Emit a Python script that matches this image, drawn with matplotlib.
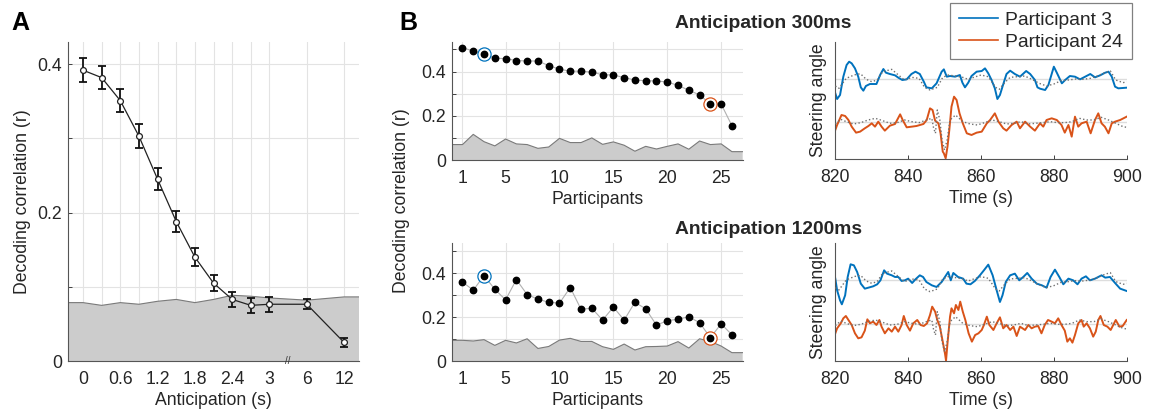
import matplotlib
matplotlib.use('Agg')
import matplotlib.pyplot as plt
import numpy as np

plt.rcParams['font.family'] = ['Liberation Sans', 'DejaVu Sans']
plt.rcParams['text.color'] = '#262626'
plt.rcParams['axes.labelcolor'] = '#262626'
plt.rcParams['xtick.color'] = '#404040'
plt.rcParams['ytick.color'] = '#404040'
plt.rcParams['xtick.labelcolor'] = '#262626'
plt.rcParams['ytick.labelcolor'] = '#262626'

# ---------------- Panel A data ----------------
anticipation = [0, 0.3, 0.6, 0.9, 1.2, 1.5, 1.8, 2.1, 2.4, 2.7, 3, 6, 12]
corr_mean = [0.392, 0.382, 0.351, 0.303, 0.245, 0.188, 0.140, 0.105, 0.083, 0.075, 0.0765, 0.0765, 0.025]
corr_err = [0.016, 0.016, 0.016, 0.016, 0.015, 0.014, 0.012, 0.011, 0.010, 0.010, 0.010, 0.007, 0.006]
corr_null = [0.0787, 0.075, 0.0787, 0.0765, 0.0805, 0.083, 0.0787, 0.083, 0.0886, 0.0873, 0.085, 0.082, 0.0864]
a_tick_labels = ['0', '0.6', '1.2', '1.8', '2.4', '3', '6', '12']

# ---------------- Panel B data ----------------
participants = list(range(1, 27))
corr_300 = [0.508, 0.493, 0.481, 0.460, 0.459, 0.450, 0.448, 0.448, 0.427, 0.411,
            0.402, 0.402, 0.398, 0.386, 0.385, 0.373, 0.362, 0.359, 0.358, 0.353,
            0.338, 0.316, 0.295, 0.254, 0.254, 0.156]
null_300 = [0.071, 0.117, 0.084, 0.065, 0.096, 0.074, 0.071, 0.054, 0.060, 0.099,
            0.080, 0.080, 0.101, 0.072, 0.083, 0.068, 0.041, 0.063, 0.051, 0.063,
            0.074, 0.050, 0.087, 0.071, 0.074, 0.039]
corr_1200 = [0.359, 0.322, 0.388, 0.326, 0.278, 0.370, 0.302, 0.281, 0.267, 0.263,
             0.334, 0.235, 0.240, 0.186, 0.245, 0.186, 0.267, 0.237, 0.163, 0.183,
             0.190, 0.201, 0.174, 0.106, 0.169, 0.119]
null_1200 = [0.094, 0.091, 0.097, 0.071, 0.094, 0.082, 0.101, 0.057, 0.066, 0.095,
             0.103, 0.089, 0.089, 0.065, 0.053, 0.077, 0.050, 0.065, 0.066, 0.068,
             0.088, 0.059, 0.101, 0.089, 0.068, 0.038]
highlight = [3, 24]

# ---------------- Steering traces (arbitrary units, deviation from baseline) ----------------
t_p3_300 = [820.0, 820.5, 821.3, 822.2, 823.1, 823.8, 824.5, 825.4, 826.3, 827.0, 827.7, 828.4, 829.5, 831.3,
            832.3, 833.2, 833.9, 835.0, 836.4, 837.3, 838.4, 839.6, 840.9, 842.0, 843.2, 844.3, 845.0, 846.5,
            847.8, 849.2, 849.8, 850.6, 851.5, 852.9, 854.2, 854.9, 855.6, 856.5, 857.4, 858.8, 860.2, 861.1,
            862.0, 862.9, 863.8, 864.5, 865.2, 865.9, 867.0, 868.0, 869.3, 870.7, 872.4, 873.5, 874.8, 875.5,
            876.2, 877.6, 878.5, 879.4, 880.0, 880.9, 882.2, 883.1, 884.4, 885.8, 887.2, 888.6, 890.0, 891.3,
            892.7, 894.1, 895.0, 895.9, 896.8, 897.7, 900.0]
v_p3_300 = [-4.4, -6.1, -4.9, 0.6, 4.1, 5.1, 4.6, 3.1, 0.6, -2.6, -3.6, -2.2, -1.6, -1.6,
            1.1, 2.9, 1.8, 1.4, 1.0, 0.3, -0.4, -0.2, 1.4, 2.1, 1.4, -0.9, -2.6, -2.9,
            -1.4, 2.1, 2.8, 0.6, 0.8, 0.6, 1.1, -1.2, -2.6, -1.2, 0.8, 2.1, 2.3, 3.1,
            1.6, -0.4, -2.9, -6.1, -4.9, -2.4, 1.4, 2.4, 1.4, 0.6, 2.3, 1.4, -0.4, -2.6,
            -3.0, -3.4, -1.9, 1.4, 3.6, 1.6, -1.4, -0.4, 0.8, 0.6, -0.2, 0.6, 1.4, 0.4,
            1.0, 1.8, 2.1, 0.6, -2.4, -2.9, -2.7]

t_p3_true = [820, 821, 822, 823, 824.5, 826, 827, 828.5, 830, 831.5, 833, 835.5, 837, 839, 841, 843,
             844.5, 846, 848, 849.5, 851, 853, 855, 856.5, 858, 860, 862, 864, 865, 866.5, 868, 870,
             872, 874, 876, 878, 880, 882, 884, 886, 888, 890, 892, 894, 895.5, 897, 899, 900]
v_p3_true = [-2.2, -2.9, -1.4, 0.1, 0.8, 1.4, 1.4, -0.2, -0.9, -0.4, 2.1, 2.8, 1.4, -0.4, 0.4, 0.1,
             -2.6, -3.4, -2.6, 0.4, 1.1, 0.8, 0.4, -0.2, 0.4, 1.1, 0.6, -2.6, -3.2, -1.2, 0.4, 0.6,
             0.8, -0.2, -1.4, -2.2, -1.6, -0.6, -0.4, -0.1, -0.2, 0.1, 0.8, 1.8, 2.3, -0.4, -1.2, -0.9]

t_p24_300 = [820.0, 820.5, 821.7, 822.7, 823.6, 824.5, 825.7, 826.8, 828.1, 829.1, 830.0, 830.9, 831.8, 832.7,
             833.6, 835.0, 836.4, 837.8, 838.5, 839.6, 841.0, 842.3, 844.2, 845.1, 846.0, 846.7, 847.4, 848.3,
             848.9, 849.5, 849.8, 850.3, 850.8, 851.3, 851.9, 852.6, 853.3, 854.1, 855.0, 856.1, 857.4, 858.8,
             860.2, 861.6, 862.5, 863.8, 864.8, 866.1, 867.0, 868.4, 869.8, 870.7, 872.1, 873.5, 874.8, 876.2,
             877.1, 878.0, 879.4, 880.8, 882.1, 883.0, 884.0, 884.9, 885.8, 886.7, 887.6, 889.0, 890.1, 891.3,
             892.2, 893.1, 894.0, 895.0, 895.9, 896.8, 898.2, 900.0]
v_p24_300 = [-2.3, -0.8, 2.2, 1.9, 0.7, -1.3, -3.1, -2.8, -1.8, -1.1, -0.3, -1.3, 0.2, -1.3,
             -2.5, -1.0, -0.5, 2.4, 0.7, -1.5, -1.3, -1.1, -0.5, 0.7, 4.2, 3.7, 0.5, -0.3,
             -3.3, -8.8, -9.3, -10.8, -7.3, -2.3, 4.7, 7.7, 6.7, 2.7, -0.3, -3.3, -3.8, -3.1,
             -2.8, -0.3, 0.7, 2.7, 0.2, -1.8, -2.5, -0.8, 0.2, -1.8, 0.2, -1.3, -2.5, -0.3,
             -1.3, 0.7, 1.2, 0.7, -0.8, -3.1, -0.8, -4.3, 1.7, -1.3, -0.3, 0.2, -3.3, 0.7,
             2.7, -0.3, -1.3, -3.3, -0.3, 0.2, 0.7, 1.7]

t_p24_true = [820, 821.5, 823, 825, 827, 829, 831, 833, 835, 837, 839, 841, 843, 845, 846.5, 847,
              847.5, 848, 848.7, 849.3, 850, 850.7, 851.5, 853, 855, 857, 859, 861, 863, 865, 867, 869,
              871, 873, 875, 877, 879, 881, 883, 885, 887, 889, 891, 893, 895, 897, 899, 900]
v_p24_true = [-0.5, 0.9, 0.2, -0.5, -0.1, 0.7, 1.2, 0.5, -0.3, -0.1, 0.7, 0.2, -0.1, 0.7, 1.2, -1.8,
              -3.3, 3.7, 0.7, -5.3, -8.3, -5.3, 0.7, 2.2, 0.2, -0.5, -0.8, -0.1, 0.7, 0.2, -0.5, -0.3,
              0.2, -0.5, -0.3, -0.1, 0.2, -0.1, -0.1, 0.2, 1.2, 0.7, 0.7, 1.5, 0.7, -0.3, -1.3, -1.5]

t_p3_1200 = [820.0, 820.5, 821.3, 821.8, 822.7, 823.4, 824.2, 825.1, 826.0, 827.0, 828.1, 829.1, 830.4, 831.5,
             832.4, 833.4, 834.2, 835.5, 836.4, 837.3, 838.2, 839.1, 840.0, 841.1, 842.0, 843.2, 844.1, 845.0,
             846.5, 847.8, 849.2, 850.4, 851.0, 851.7, 852.4, 853.7, 855.1, 856.0, 857.1, 858.3, 859.7, 860.8,
             862.0, 863.2, 864.3, 865.2, 865.9, 866.8, 868.0, 869.3, 870.5, 871.6, 872.7, 873.9, 875.3, 876.7,
             878.0, 879.1, 880.3, 881.5, 882.6, 884.0, 885.3, 886.5, 887.6, 888.8, 889.9, 891.3, 892.2, 893.1,
             894.1, 895.4, 896.8, 898.2, 900.0]
v_p3_1200 = [0.5, -3.0, -6.0, -7.2, -4.5, 1.0, 4.8, 4.5, 2.5, -1.0, -2.5, -2.2, -1.8, -1.2,
             0.0, 3.0, 2.0, 1.5, 1.0, 1.0, -0.2, 0.0, 0.5, -0.8, 0.3, 1.5, 1.0, -0.5,
             -1.5, -2.0, -0.5, 1.5, 2.5, 0.0, 2.2, 1.0, 0.5, -1.0, -1.2, -0.2, 1.5, 3.0,
             4.7, 1.5, -3.0, -6.5, -4.5, -0.5, 1.5, 2.0, 0.0, 1.0, 2.2, 0.5, -1.0, -1.5,
             -2.2, 1.0, 3.2, 1.0, -1.2, 0.5, 0.0, -1.2, 0.5, 1.2, 0.0, 0.5, 1.0, 1.5,
             0.8, 1.0, -0.8, -2.5, -3.2]

t_p24_1200 = [820.0, 820.5, 821.5, 822.2, 822.9, 823.6, 824.5, 825.4, 826.3, 827.2, 828.1, 828.8, 829.5, 830.4,
              831.3, 832.1, 832.7, 833.6, 834.6, 835.5, 836.4, 837.3, 838.2, 838.8, 839.6, 840.5, 841.4, 842.5,
              843.4, 844.3, 845.2, 846.0, 846.6, 847.4, 848.0, 848.7, 849.5, 850.1, 850.4, 850.8, 851.5, 851.9,
              852.6, 853.1, 853.8, 854.3, 855.0, 855.7, 856.6, 857.5, 858.4, 859.3, 860.2, 860.8, 861.6, 862.3,
              863.4, 864.3, 865.2, 866.1, 867.0, 868.0, 868.9, 869.8, 870.7, 872.1, 873.0, 873.9, 874.8, 875.7,
              876.6, 877.5, 878.4, 879.4, 880.3, 881.2, 882.1, 883.0, 883.7, 884.4, 885.1, 885.8, 886.7, 887.6,
              888.2, 889.0, 889.9, 890.8, 891.5, 892.2, 892.8, 893.7, 894.7, 895.6, 896.3, 897.0, 898.0, 898.9,
              900.0]
v_p24_1200 = [-2.8, -1.3, 0.2, 1.7, 2.4, 1.2, -0.3, -2.8, -4.3, -4.0, -2.0, 1.4, 0.2, 0.7,
              -0.3, 1.2, -0.8, -2.8, -1.3, -2.3, -0.8, -2.3, -0.3, 2.4, -0.3, -2.0, 0.2, 1.2,
              -0.3, -0.6, 0.2, 2.7, 5.2, 3.7, 1.2, -0.8, -5.3, -8.8, -11.0, -5.8, 2.2, 4.7,
              3.2, 5.7, 4.2, 6.7, 3.7, 1.2, -2.8, -5.3, -3.3, -2.8, -1.8, -0.3, 2.2, -0.3,
              -1.8, 0.2, 2.0, -1.3, -0.3, -1.8, -0.8, -3.6, -0.8, -1.8, -0.3, -1.3, -0.8, -0.6,
              -2.8, -0.3, 1.2, 0.7, 0.2, 1.7, -0.3, -2.0, -5.3, -4.3, -5.6, -3.3, 0.2, 1.2,
              -0.8, 0.2, -1.3, -3.8, -2.3, 1.2, 2.4, -0.3, -0.8, -1.8, -0.3, 1.2, -0.8, -0.6,
              1.2]

BLUE = '#0072BD'
ORANGE = '#D95319'
SPINE = '#555555'
GRID = '#e3e3e3'
FILL = '#cccccc'
FILL_EDGE = '#7a7a7a'
FS = 12.7
FS_BIG = 13.9

W, H = 1155, 412
fig = plt.figure(figsize=(W / 100, H / 100), dpi=100)


def add_ax(l, t, r, b):
    return fig.add_axes([l / W, 1 - b / H, (r - l) / W, (b - t) / H])


def style(ax, grid=True):
    for s in ['top', 'right']:
        ax.spines[s].set_visible(False)
    for s in ['left', 'bottom']:
        ax.spines[s].set_color(SPINE)
        ax.spines[s].set_linewidth(0.8)
    ax.tick_params(direction='in', length=3, width=0.7, labelsize=FS)
    ax.tick_params(axis='x', pad=7)
    ax.tick_params(axis='y', pad=4)
    if grid:
        ax.grid(True, color=GRID, lw=0.8)
        ax.set_axisbelow(True)


# ---------------- Panel A ----------------
axA = add_ax(67.7, 42, 359, 361)
style(axA)
xpos = np.r_[np.arange(11), 12, 14]
xl = (-0.82, 14.8)
axA.fill_between(np.r_[xl[0], xpos, xl[1]], 0, np.r_[corr_null[0], corr_null, corr_null[-1]],
                 facecolor=FILL, edgecolor='none', zorder=1)
axA.plot(np.r_[xl[0], xpos, xl[1]], np.r_[corr_null[0], corr_null, corr_null[-1]], color=FILL_EDGE, lw=0.8, zorder=1.5)
axA.errorbar(xpos, corr_mean, yerr=corr_err, fmt='none', ecolor='#111111', elinewidth=1.3,
             capsize=2.8, capthick=1.3, zorder=3)
axA.plot(xpos, corr_mean, '-', color='#222222', lw=0.9, zorder=3.5)
axA.plot(xpos, corr_mean, 'o', mfc='white', mec='#222222', mew=0.9, ms=4.2, zorder=4)
axA.set_xlim(*xl)
axA.set_ylim(0, 0.43)
axA.set_xticks(xpos)
lab_map = {float(s): s for s in a_tick_labels}
axA.set_xticklabels([lab_map.get(float(a), '') for a in anticipation])
axA.set_yticks([0, 0.1, 0.2, 0.3, 0.4])
axA.set_yticklabels(['0', '', '0.2', '', '0.4'])
axA.set_xlabel('Anticipation (s)', fontsize=FS, labelpad=3)
axA.set_ylabel('Decoding correlation (r)', fontsize=FS, labelpad=5)
axA.text(11, 0, '//', ha='center', va='center', fontsize=7, color='#333333', zorder=5)


# ---------------- Panel B ----------------
def panel_b(ax, corr, null):
    style(ax)
    px = np.r_[0, participants, 27]
    py = np.r_[null[0], null, null[-1]]
    ax.fill_between(px, 0, py, facecolor=FILL, edgecolor='none', zorder=1)
    ax.plot(px, py, color=FILL_EDGE, lw=0.8, zorder=1.5)
    ax.plot(participants, corr, '-', color='#b0b0b0', lw=0.8, zorder=2)
    for p, c in zip(highlight, [BLUE, ORANGE]):
        ax.plot(p, corr[p - 1], 'o', mfc='white', mec=c, mew=0.9, ms=9.5, zorder=3)
    ax.plot(participants, corr, 'o', color='black', ms=4.6, zorder=4)
    ax.set_xlim(0, 27)
    ax.set_ylim(0, 0.535)
    ax.set_xticks([1, 5, 10, 15, 20, 25])
    ax.set_yticks([0, 0.1, 0.2, 0.3, 0.4, 0.5])
    ax.set_yticklabels(['0', '', '0.2', '', '0.4', ''])
    ax.set_xlabel('Participants', fontsize=FS, labelpad=3)


axB1 = add_ax(451.7, 41.7, 742.7, 160.3)
panel_b(axB1, corr_300, null_300)
axB2 = add_ax(451.7, 243.3, 742.7, 361)
panel_b(axB2, corr_1200, null_1200)
fig.text(401 / W, 1 - 201 / H, 'Decoding correlation (r)', rotation=90, ha='center', va='center', fontsize=FS)


# ---------------- Steering panels ----------------
OFF_BLUE, OFF_ORANGE = 13.1, 0.0


def panel_s(ax, tb, vb, to, vo):
    style(ax, grid=False)
    ax.axhline(OFF_BLUE, color='#dddddd', lw=1.0, zorder=1)
    ax.axhline(OFF_ORANGE, color='#dddddd', lw=1.0, zorder=1)
    lb, = ax.plot(tb, np.array(vb) + OFF_BLUE, color=BLUE, lw=1.4, zorder=2)
    lo, = ax.plot(to, np.array(vo) + OFF_ORANGE, color=ORANGE, lw=1.4, zorder=2)
    ax.plot(t_p3_true, np.array(v_p3_true) + OFF_BLUE, ':', color='#707070', lw=1.0, zorder=3)
    ax.plot(t_p24_true, np.array(v_p24_true) + OFF_ORANGE, ':', color='#707070', lw=1.0, zorder=3)
    ax.set_xlim(820, 900)
    ax.set_ylim(-11.1, 24.2)
    ax.set_xticks([820, 840, 860, 880, 900])
    ax.set_yticks([])
    ax.set_xlabel('Time (s)', fontsize=FS, labelpad=3)
    ax.set_ylabel('Steering angle', fontsize=FS, labelpad=6)
    return lb, lo


axS1 = add_ax(835.3, 41.7, 1126.7, 159.3)
lb, lo = panel_s(axS1, t_p3_300, v_p3_300, t_p24_300, v_p24_300)
axS2 = add_ax(835.3, 243.3, 1126.7, 361)
panel_s(axS2, t_p3_1200, v_p3_1200, t_p24_1200, v_p24_1200)

leg = fig.legend([lb, lo], ['Participant 3', 'Participant 24'], loc='upper right',
                 bbox_to_anchor=(1132 / W, 1 - 3 / H), borderaxespad=0, fancybox=False,
                 edgecolor='#808080', framealpha=1, fontsize=FS_BIG, handlelength=2.0,
                 handletextpad=0.4, labelspacing=0.2, borderpad=0.45)
leg.get_frame().set_linewidth(0.9)
for l in leg.get_lines():
    l.set_linewidth(1.2)

# titles and panel letters
fig.text(675 / W, 1 - 23 / H, 'Anticipation 300ms', ha='left', va='center', fontsize=FS_BIG, fontweight='bold')
fig.text(675 / W, 1 - 230 / H, 'Anticipation 1200ms', ha='left', va='center', fontsize=FS_BIG, fontweight='bold')
fig.text(20 / W, 1 - 22.5 / H, 'A', ha='center', va='center', fontsize=18, fontweight='bold', color='black')
fig.text(408 / W, 1 - 22.5 / H, 'B', ha='center', va='center', fontsize=18, fontweight='bold', color='black')

fig.savefig('out.png', dpi=100)
